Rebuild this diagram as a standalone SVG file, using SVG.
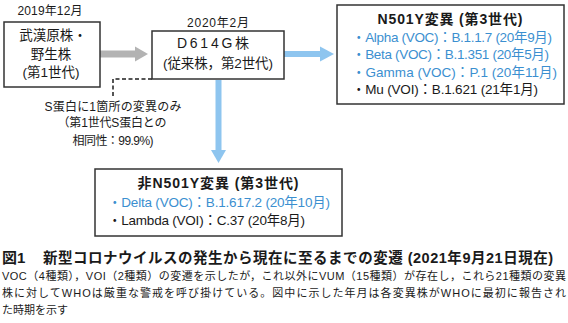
<svg xmlns="http://www.w3.org/2000/svg" width="568" height="323" viewBox="0 0 568 323">
<style>
text{font-family:"Liberation Sans","Noto Sans CJK JP",sans-serif;fill:#1a1a1a}
.box{fill:#fff;stroke:#333;stroke-width:1.5}
.n{font-size:13.5px}
.s{font-size:12px}
.b{font-weight:bold;font-size:14px}
.blue{fill:#3b8fd0}
.cap{font-size:11px}
.c{text-anchor:middle}
</style>
<g id="connectors">
<rect x="100" y="50.5" width="36" height="7" fill="#b3b3b3"/>
<polygon points="135,46.5 148,54 135,61.5" fill="#b3b3b3"/>
<rect x="284" y="51" width="37" height="6" fill="#8ec5ef"/>
<polygon points="320,46.5 334,54 320,61.5" fill="#8ec5ef"/>
<rect x="215.5" y="80" width="6" height="71" fill="#8ec5ef"/>
<polygon points="211,150 226,150 218.5,163" fill="#8ec5ef"/>
<polyline points="152,79 113,79 113,98" fill="none" stroke="#555" stroke-width="2" stroke-dasharray="4,2.5"/>
</g>
<g id="label-2019"><text class="s c" x="50" y="15" textLength="65">2019年12月</text></g>
<g id="node-wuhan">
<rect class="box" x="4" y="22" width="96" height="65"/>
<text class="n c" x="53" y="40">武漢原株・</text>
<text class="n c" x="51" y="59">野生株</text>
<text class="n c" x="51" y="77" textLength="57">(第1世代)</text>
</g>
<g id="label-2020"><text class="s c" x="218" y="27" textLength="62">2020年2月</text></g>
<g id="node-d614g">
<rect class="box" x="152" y="31" width="132" height="48"/>
<text class="n c" x="213" y="48" style="font-size:14px" textLength="72">D614G株</text>
<text class="n c" x="218" y="68" textLength="110">(従来株，第2世代)</text>
</g>
<g id="note">
<text class="s c" x="113" y="111" textLength="137">S蛋白に1箇所の変異のみ</text>
<text class="s c" x="112" y="127" textLength="109">（第1世代S蛋白との</text>
<text class="s c" x="113" y="145" textLength="81">相同性：99.9%)</text>
</g>
<g id="node-n501y">
<rect class="box" x="337" y="5" width="227" height="99"/>
<text class="b c" x="450" y="24" textLength="145">N501Y変異 (第3世代)</text>
<text class="n blue" x="352" y="42" textLength="200">・Alpha (VOC)：B.1.1.7 (20年9月)</text>
<text class="n blue" x="352" y="59" textLength="197">・Beta (VOC)：B.1.351 (20年5月)</text>
<text class="n blue" x="352" y="77" textLength="205">・Gamma (VOC)：P.1 (20年11月)</text>
<text class="n" x="352" y="94" textLength="186">・Mu (VOI)：B.1.621 (21年1月)</text>
</g>
<g id="node-non-n501y">
<rect class="box" x="95" y="169" width="247" height="67"/>
<text class="b c" x="218" y="188" textLength="161">非N501Y変異 (第3世代)</text>
<text class="n blue" x="108" y="207" textLength="222">・Delta (VOC)：B.1.617.2 (20年10月)</text>
<text class="n" x="108" y="225" textLength="197">・Lambda (VOI)：C.37 (20年8月)</text>
</g>
<g id="caption">
<text style="font-size:15px;font-weight:bold" x="2" y="263">図1</text>
<text style="font-size:14.5px;font-weight:bold" x="43" y="263" textLength="510">新型コロナウイルスの発生から現在に至るまでの変遷 (2021年9月21日現在)</text>
<text class="cap" x="2" y="280" textLength="564">VOC（4種類），VOI（2種類）の変遷を示したが，これ以外にVUM（15種類）が存在し，これら21種類の変異</text>
<text class="cap" x="2" y="297" textLength="564">株に対してWHOは厳重な警戒を呼び掛けている。図中に示した年月は各変異株がWHOに最初に報告され</text>
<text class="cap" x="2" y="314">た時期を示す</text>
</g>
</svg>
